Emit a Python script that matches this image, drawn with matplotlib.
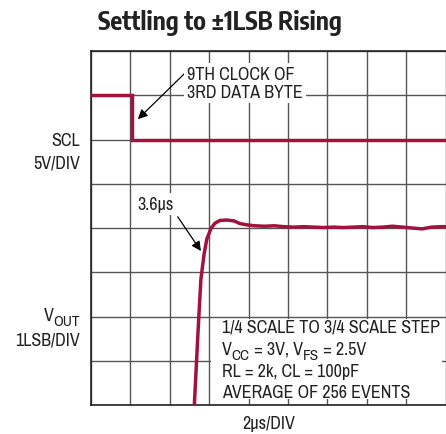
import matplotlib
matplotlib.use('Agg')
import matplotlib.pyplot as plt
from matplotlib.patches import Rectangle

plt.rcParams['font.family'] = ['Archivo Narrow', 'DejaVu Sans']

# scope traces, in divisions (10 x 8 graticule)
scl_x = [0.0, 1.03, 1.03, 9.2]
scl_y = [7.0, 7.0, 6.0, 6.0]

vout_x = [2.62, 2.72, 2.79, 2.87, 2.94, 3.05, 3.15, 3.27, 3.45, 3.63, 3.78, 3.96, 4.16,
          4.4, 4.65, 4.9, 5.15, 5.4, 5.65, 5.9, 6.15, 6.4, 6.65, 6.9, 7.15, 7.4, 7.65,
          7.9, 8.15, 8.4, 8.65, 8.9, 9.2]
vout_y = [-0.05, 1.72, 2.85, 3.41, 3.75, 4.0, 4.11, 4.17, 4.18, 4.16, 4.10, 4.07, 4.05,
          4.04, 4.05, 4.03, 4.02, 4.03, 4.02, 4.01, 4.02, 4.01, 4.02, 4.03, 4.01, 4.02, 4.04,
          4.02, 4.00, 3.98, 4.02, 4.03, 4.03]

# test conditions; (text, is_subscript) pieces for the line with subscripts
note_top = '1/4 SCALE TO 3/4 SCALE STEP'
note_vcc = [('V', False), ('CC', True), (' = 3V, V', False), ('FS', True), (' = 2.5V', False)]
note_rl = 'RL = 2k, CL = 100pF'
note_avg = 'AVERAGE OF 256 EVENTS'

trace = '#a3123a'
gridc = '#555555'
ink = '#222222'
fs = 13


def chain(ax, x, y, pieces):
    # write text pieces one after another, subscripts smaller and lowered
    prev = None
    for txt, sub in pieces:
        size = fs * 0.85 if sub else fs
        if prev is None:
            prev = ax.text(x, y, txt, fontsize=size, color=ink, ha='left', va='baseline', zorder=4)
        else:
            prev = ax.annotate(txt, xy=(1, 0), xycoords=prev, xytext=(0, -3.5 if sub else 3.5),
                               textcoords='offset points', fontsize=size, color=ink,
                               ha='left', va='bottom', zorder=4)
    return prev


def py(p):
    # picture row -> divisions
    return (406 - p) / 44.25


fig = plt.figure(figsize=(4.46, 4.35), dpi=100)
# graticule is wider than the picture: right part is cut off like the original
ax = fig.add_axes([91 / 446, 29 / 435, 394 / 446, 354 / 435])
ax.set_xlim(0, 10)
ax.set_ylim(0, 8)
ax.set_xticks(range(11))
ax.set_yticks(range(9))
ax.tick_params(length=0, labelbottom=False, labelleft=False)
ax.grid(True, color=gridc, lw=1.0)
ax.set_axisbelow(True)
for s in ['left', 'top', 'bottom']:
    ax.spines[s].set_linewidth(1.2)
    ax.spines[s].set_color(ink)

ax.plot(scl_x, scl_y, color=trace, lw=2.5, solid_joinstyle='miter', zorder=3)
ax.plot(vout_x, vout_y, color=trace, lw=2.5, zorder=3)

# white block behind the test conditions
ax.add_patch(Rectangle((3.04, 0.14), 5.88, 1.8, facecolor='white', edgecolor='none', zorder=2))
ax.text(3.32, py(333), note_top, fontsize=fs, color=ink, ha='left', va='baseline', zorder=4)
chain(ax, 3.32, py(355), note_vcc)
ax.text(3.32, py(377), note_rl, fontsize=fs, color=ink, ha='left', va='baseline', zorder=4)
ax.text(3.32, py(398), note_avg, fontsize=fs, color=ink, ha='left', va='baseline', zorder=4)

ax.annotate('9TH CLOCK OF\n3RD DATA BYTE', xy=(1.19, 6.46), xytext=(2.44, 7.28),
            fontsize=fs, color=ink, va='center', ha='left', linespacing=1.15,
            bbox=dict(facecolor='white', edgecolor='none', pad=2),
            arrowprops=dict(arrowstyle='-|>', color='black', lw=0.9, mutation_scale=14,
                            shrinkA=0, shrinkB=0, relpos=(0, 0.85)), zorder=4)
ax.annotate('3.6\u00b5s', xy=(2.79, 3.48), xytext=(1.17, 4.54),
            fontsize=fs, color=ink, va='center', ha='left',
            bbox=dict(facecolor='white', edgecolor='none', pad=2),
            arrowprops=dict(arrowstyle='-|>', color='black', lw=0.9, mutation_scale=14,
                            shrinkA=2, shrinkB=0, relpos=(1, 0.1)), zorder=4)

fig.text(0.493, 1 - 23 / 435, 'Settling to \u00b11LSB Rising', fontsize=18, fontweight='bold',
         family=['Encode Sans Condensed', 'DejaVu Sans'], color=ink, ha='center', va='center')
fig.text(80 / 446, 1 - 141 / 435, 'SCL', fontsize=fs, color=ink, ha='right', va='center')
fig.text(80 / 446, 1 - 163 / 435, '5V/DIV', fontsize=fs, color=ink, ha='right', va='center')
fig.text(80 / 446, 1 - 341 / 435, '1LSB/DIV', fontsize=fs, color=ink, ha='right', va='center')
# V_OUT: right-aligned subscript, then the V to its left
sub = fig.text(80 / 446, 1 - 326 / 435, 'OUT', fontsize=fs * 0.85, color=ink, ha='right', va='baseline')
ax.annotate('V', xy=(0, 0), xycoords=sub, xytext=(0, 3.5), textcoords='offset points',
            fontsize=fs, color=ink, ha='right', va='bottom', annotation_clip=False)
fig.text(269 / 446, 1 - 424 / 435, '2\u00b5s/DIV', fontsize=fs, color=ink, ha='center', va='center')

fig.savefig('out.png', dpi=100)
